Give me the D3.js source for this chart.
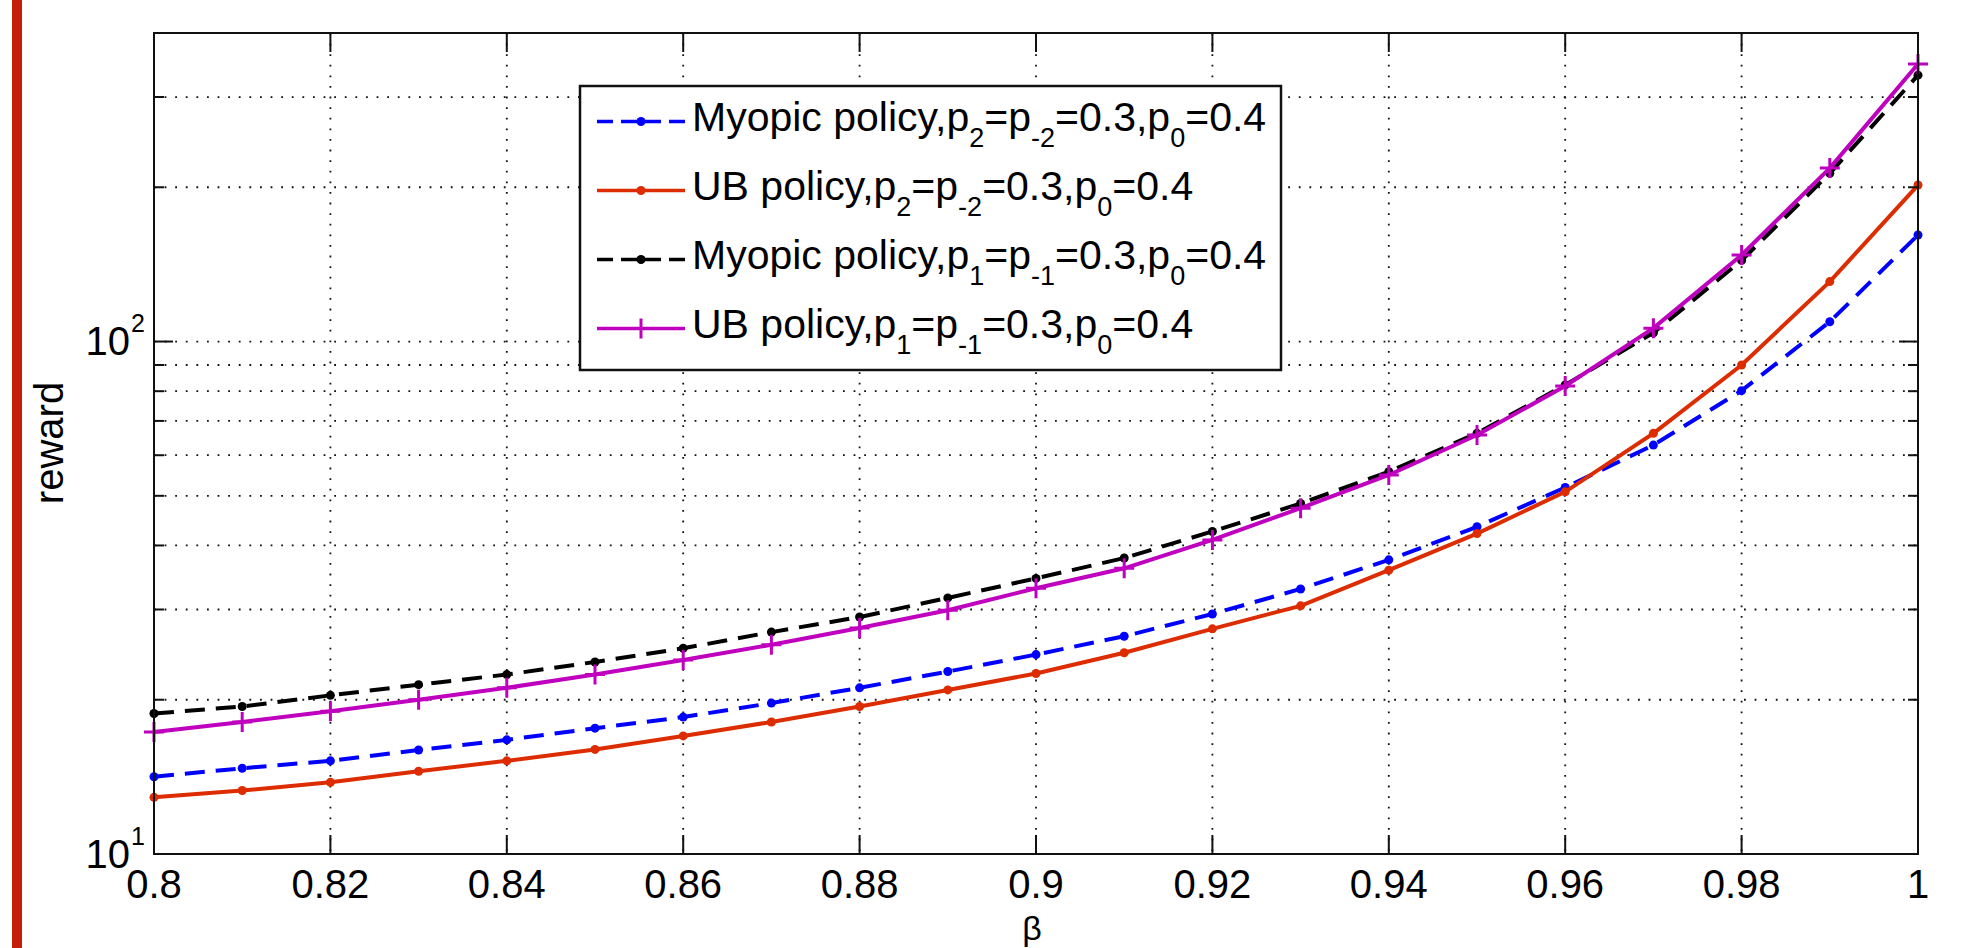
<!DOCTYPE html>
<html>
<head>
<meta charset="utf-8">
<script src="https://cdn.jsdelivr.net/npm/d3@7"></script>
<style>
  body { margin: 0; background: #fff; }
  text { font-family: "Liberation Sans", Arial, sans-serif; fill: #000; }
</style>
</head>
<body>
<div class="chart"></div>
<script>
// data
var beta = [0.80, 0.81, 0.82, 0.83, 0.84, 0.85, 0.86, 0.87, 0.88, 0.89, 0.90,
            0.91, 0.92, 0.93, 0.94, 0.95, 0.96, 0.97, 0.98, 0.99, 1.00];
var myopicP2 = [14.15, 14.7, 15.2, 15.96, 16.7, 17.6, 18.5, 19.7, 21.1, 22.7, 24.5,
                26.6, 29.4, 32.9, 37.5, 43.5, 51.9, 62.8, 80.2, 109.3, 161.4];
var ubP2 = [12.9, 13.3, 13.8, 14.5, 15.2, 16.0, 17.0, 18.1, 19.4, 20.9, 22.5,
            24.7, 27.5, 30.5, 35.8, 42.2, 50.9, 66.2, 90.0, 130.9, 202];
var myopicP1 = [18.8, 19.4, 20.4, 21.4, 22.4, 23.7, 25.2, 27.1, 29.0, 31.6, 34.5,
                37.8, 42.6, 48.3, 55.7, 66.2, 82.3, 104, 144, 213, 331];
var ubP1 = [17.3, 18.1, 19.0, 20.0, 21.1, 22.4, 23.9, 25.6, 27.6, 29.9, 33.0,
            36.1, 41.0, 47.3, 54.9, 65.7, 81.9, 106.2, 147.5, 218, 348];

var seriesNames = ["Myopic policy,p_{2}=p_{-2}=0.3,p_{0}=0.4",
                   "UB policy,p_{2}=p_{-2}=0.3,p_{0}=0.4",
                   "Myopic policy,p_{1}=p_{-1}=0.3,p_{0}=0.4",
                   "UB policy,p_{1}=p_{-1}=0.3,p_{0}=0.4"];

var xTicks = [0.8, 0.82, 0.84, 0.86, 0.88, 0.9, 0.92, 0.94, 0.96, 0.98, 1];
var xTickLabels = ["0.8", "0.82", "0.84", "0.86", "0.88", "0.9", "0.92", "0.94", "0.96", "0.98", "1"];
var yMajor = [10, 100];
var yMinor = [20, 30, 40, 50, 60, 70, 80, 90, 200, 300];

// Set graph
var width = 1964, height = 948;
var plot = { left: 154, right: 1918, top: 33, bottom: 854 };

var svg = d3.select(".chart")
  .append("svg")
    .attr("width", width)
    .attr("height", height);

// red strip on the left edge of the page
svg.append("rect")
  .attr("x", 12).attr("y", 0)
  .attr("width", 10).attr("height", height)
  .attr("fill", "#c41f0a");

// X Scale
var x = d3.scaleLinear()
  .domain([0.8, 1])
  .range([plot.left, plot.right]);

// Y Scale (log)
var y = d3.scaleLog()
  .domain([10, 400])
  .range([plot.bottom, plot.top]);

// grid
var grid = svg.append("g")
  .attr("stroke", "#111")
  .attr("stroke-width", 1.8)
  .attr("stroke-dasharray", "1.8,8.8");

grid.selectAll(".gx")
  .data(xTicks.slice(1, -1))
  .enter().append("line")
    .attr("x1", function(d) { return x(d); })
    .attr("x2", function(d) { return x(d); })
    .attr("y1", plot.top)
    .attr("y2", plot.bottom);

grid.selectAll(".gy")
  .data(yMinor.concat([100]))
  .enter().append("line")
    .attr("x1", plot.left)
    .attr("x2", plot.right)
    .attr("y1", function(d) { return y(d); })
    .attr("y2", function(d) { return y(d); });

// series styles
var series = [
  { name: seriesNames[0], values: myopicP2, color: "#0000ff", dash: "20,11", marker: "dot" },
  { name: seriesNames[1], values: ubP2, color: "#dc2c00", dash: null, marker: "dot" },
  { name: seriesNames[2], values: myopicP1, color: "#000000", dash: "20,11", marker: "dot" },
  { name: seriesNames[3], values: ubP1, color: "#bf00bf", dash: null, marker: "plus" }
];

var line = d3.line()
  .x(function(d) { return x(d[0]); })
  .y(function(d) { return y(d[1]); });

function drawMarker(g, cx, cy, s) {
  if (s.marker == "plus") {
    g.append("path")
      .attr("d", "M" + (cx - 10) + "," + cy + "H" + (cx + 10) + "M" + cx + "," + (cy - 10) + "V" + (cy + 10))
      .attr("stroke", s.color)
      .attr("stroke-width", 3)
      .attr("fill", "none");
  } else {
    g.append("circle")
      .attr("cx", cx).attr("cy", cy)
      .attr("r", 4.5)
      .attr("fill", s.color);
  }
}

series.forEach(function(s) {
  var pts = beta.map(function(b, i) { return [b, s.values[i]]; });
  var g = svg.append("g");
  g.append("path")
    .datum(pts)
    .attr("d", line)
    .attr("fill", "none")
    .attr("stroke", s.color)
    .attr("stroke-width", 4)
    .attr("stroke-dasharray", s.dash);
  pts.forEach(function(p) { drawMarker(g, x(p[0]), y(p[1]), s); });
});

// ticks (inward, on all four sides)
var ticks = svg.append("g")
  .attr("stroke", "#111")
  .attr("stroke-width", 2);

xTicks.forEach(function(d) {
  ticks.append("line")
    .attr("x1", x(d)).attr("x2", x(d))
    .attr("y1", plot.bottom).attr("y2", plot.bottom - 19);
  ticks.append("line")
    .attr("x1", x(d)).attr("x2", x(d))
    .attr("y1", plot.top).attr("y2", plot.top + 19);
});

yMajor.concat(yMinor).forEach(function(d) {
  var len = yMajor.indexOf(d) >= 0 ? 19 : 10;
  ticks.append("line")
    .attr("x1", plot.left).attr("x2", plot.left + len)
    .attr("y1", y(d)).attr("y2", y(d));
  ticks.append("line")
    .attr("x1", plot.right).attr("x2", plot.right - len)
    .attr("y1", y(d)).attr("y2", y(d));
});

// axes box
svg.append("rect")
  .attr("x", plot.left).attr("y", plot.top)
  .attr("width", plot.right - plot.left)
  .attr("height", plot.bottom - plot.top)
  .attr("fill", "none")
  .attr("stroke", "#111")
  .attr("stroke-width", 2);

// X tick labels
svg.selectAll(".xlab")
  .data(xTicks)
  .enter().append("text")
    .attr("x", function(d) { return x(d); })
    .attr("y", 898)
    .attr("font-size", "40px")
    .attr("text-anchor", "middle")
    .text(function(d, i) { return xTickLabels[i]; });

// Y tick labels 10^n
yMajor.forEach(function(d) {
  var exp = Math.round(Math.log10(d));
  var base = y(d) + (d == 10 ? 14 : 13);
  svg.append("text")
    .attr("x", 130)
    .attr("y", base)
    .attr("font-size", "40px")
    .attr("text-anchor", "end")
    .text("10");
  svg.append("text")
    .attr("x", 131)
    .attr("y", base - 23)
    .attr("font-size", "25px")
    .text(exp);
});

// X Label
svg.append("text")
  .attr("x", (plot.left + plot.right) / 2 - 4)
  .attr("y", 940)
  .attr("font-size", "34px")
  .attr("text-anchor", "middle")
  .text("β");

// Y Label
svg.append("text")
  .attr("transform", "translate(63,443) rotate(-90)")
  .attr("font-size", "40px")
  .attr("text-anchor", "middle")
  .text("reward");

// Legend
var leg = { x: 580, y: 86, w: 701, h: 284, rowY: 121.5, rowStep: 69 };
var legend = svg.append("g");
legend.append("rect")
  .attr("x", leg.x).attr("y", leg.y)
  .attr("width", leg.w).attr("height", leg.h)
  .attr("fill", "#fff")
  .attr("stroke", "#111")
  .attr("stroke-width", 2.5);

series.forEach(function(s, i) {
  var cy = leg.rowY + i * leg.rowStep;
  legend.append("line")
    .attr("x1", 597).attr("x2", 685)
    .attr("y1", cy).attr("y2", cy)
    .attr("stroke", s.color)
    .attr("stroke-width", 3.5)
    .attr("stroke-dasharray", s.dash ? "16,8" : null);
  drawMarker(legend, 641, cy, s);

  var t = legend.append("text")
    .attr("x", 692)
    .attr("y", cy + 9)
    .attr("font-size", "41px");
  // split "p_{2}" style subscripts into tspans
  var parts = s.name.split(/_\{([^}]*)\}/);
  var shift = 0;
  parts.forEach(function(p, j) {
    if (p === "") return;
    if (j % 2 == 1) {
      t.append("tspan").attr("font-size", "27px").attr("dy", 16).text(p);
      shift = -16;
    } else {
      t.append("tspan").attr("dy", shift).text(p);
      shift = 0;
    }
  });
});
</script>
</body>
</html>
